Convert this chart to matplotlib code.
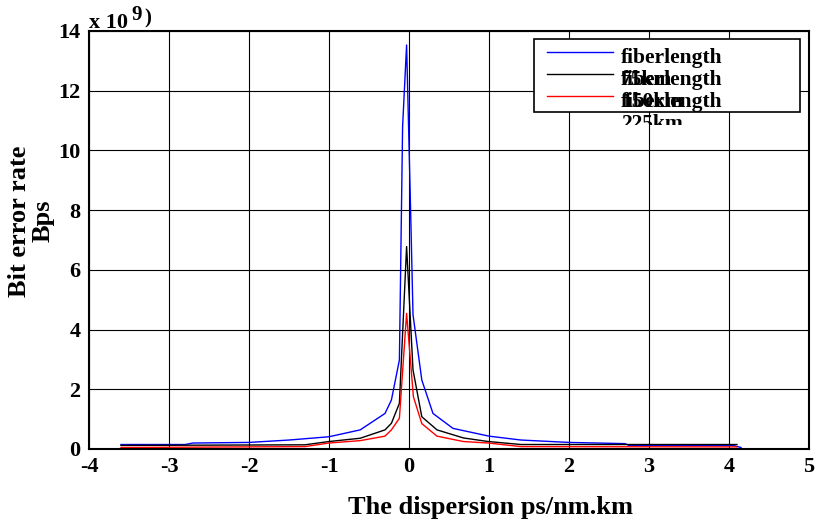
"""Bit error rate vs dispersion for three fiber lengths"""
import matplotlib
matplotlib.use("Agg")
import matplotlib.pyplot as plt
from matplotlib.transforms import Bbox, TransformedBbox

plt.rcParams["font.family"] = ["Liberation Serif", "DejaVu Serif"]
plt.rcParams["font.weight"] = "bold"
plt.rcParams["axes.unicode_minus"] = False

# dispersion (ps/nm.km) and bit error rate (x 1e9)
x_blue = [-3.6, -2.8, -2.7, -2.0, -1.5, -1.0, -0.61, -0.30, -0.22, -0.12, -0.08, -0.03,
          0.02, 0.05, 0.16, 0.30, 0.55, 1.0, 1.4, 2.0, 2.7, 2.75, 4.05, 4.15]
y_blue = [0.15, 0.15, 0.2, 0.22, 0.3, 0.41, 0.64, 1.19, 1.64, 2.98, 10.8, 13.53,
          8.0, 4.5, 2.31, 1.19, 0.69, 0.43, 0.3, 0.22, 0.18, 0.12, 0.12, 0.05]

x_black = [-3.6, -1.3, -1.0, -0.61, -0.30, -0.22, -0.12, -0.03,
           0.05, 0.16, 0.35, 0.68, 0.99, 1.4, 4.1]
y_black = [0.12, 0.14, 0.25, 0.36, 0.64, 0.86, 1.53, 6.78,
           2.65, 1.08, 0.64, 0.37, 0.25, 0.15, 0.15]

x_red = [-3.6, -1.3, -1.0, -0.61, -0.30, -0.22, -0.12, -0.03,
         0.055, 0.16, 0.35, 0.68, 0.99, 1.4, 4.1]
y_red = [0.05, 0.08, 0.2, 0.28, 0.43, 0.64, 1.03, 4.54,
         1.75, 0.85, 0.43, 0.25, 0.2, 0.08, 0.07]

labels = ["fiberlength\n75km", "fiberlength\n150km", "fiberlength\n225km"]
colors = ["#0000ff", "#000000", "#ff0000"]
xticks = [-4, -3, -2, -1, 0, 1, 2, 3, 4, 5]
yticks = [0, 2, 4, 6, 8, 10, 12, 14]

fig = plt.figure(figsize=(8.18, 5.26), dpi=100)
ax = fig.add_axes([0.1088, 0.1464, 0.8802, 0.7947])

for xs, ys, c in zip([x_blue, x_black, x_red], [y_blue, y_black, y_red], colors):
    ax.plot(xs, ys, color=c, lw=1.0)

ax.set_xlim(-4, 5)
ax.set_ylim(0, 14)
ax.set_xticks(xticks, [str(v) for v in xticks])
ax.set_yticks(yticks, [str(v) for v in yticks])
ax.tick_params(length=0, labelsize=16, pad=6)
ax.grid(True, color="black", lw=0.8)
for s in ax.spines.values():
    s.set_linewidth(1.5)

ax.set_xlabel("The dispersion ps/nm.km", fontsize=19, fontweight="bold")
ax.xaxis.set_label_coords(0.558, -0.139)
ax.xaxis.label.set_va("center")
ax.set_ylabel("Bit error rate\nBps", fontsize=19, fontweight="bold", linespacing=1.0)
ax.yaxis.set_label_coords(-0.08, 0.545)
ax.yaxis.label.set_va("center")

# exponent note above the y axis
fig.text(89 / 818, 1 - 28 / 526, "x 10", fontsize=16, fontweight="bold", va="baseline")
fig.text(131 / 818, 1 - 20 / 526, "9", fontsize=15, fontweight="bold", va="baseline")
fig.text(144 / 818, 1 - 23 / 526, ")", fontsize=15, fontweight="bold", va="baseline")

# legend box drawn by hand (labels overlap as in the original)
box = plt.Rectangle((0.618, 0.806), 0.3695, 0.175, transform=ax.transAxes,
                    facecolor="white", edgecolor="black", lw=1.2, zorder=5, clip_on=False)
ax.add_patch(box)
clip_box = TransformedBbox(Bbox([[0.6, 0.776], [1.0, 1.0]]), ax.transAxes)
for i, (lab, c) in enumerate(zip(labels, colors)):
    yy = 0.950 - i * 0.0526
    ax.plot([0.636, 0.728], [yy, yy], color=c, lw=1.0, transform=ax.transAxes,
            zorder=6, clip_on=False)
    t = ax.text(0.739, yy + 0.009, lab, transform=ax.transAxes, fontsize=15.5,
                fontweight="bold", ha="left", va="top", linespacing=1.1, zorder=6)
    t.set_clip_on(True)
    t.set_clip_box(clip_box)

fig.savefig("out.png", dpi=100)
